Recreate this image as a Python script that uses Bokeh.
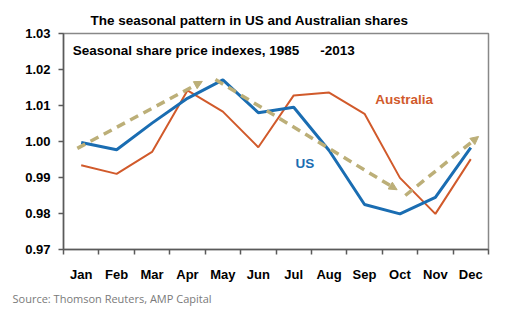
from bokeh.plotting import figure
from bokeh.models import (ColumnDataSource, Range1d, FixedTicker, Label, Arrow,
                          NormalHead, CustomJSTickFormatter, Title)
from bokeh.embed import file_html
from bokeh.resources import INLINE

months = ["Jan", "Feb", "Mar", "Apr", "May", "Jun", "Jul", "Aug", "Sep", "Oct", "Nov", "Dec"]
month_pos = [1, 2, 3, 4, 5, 6, 7, 8, 9, 10, 11, 12]
us = [0.9997, 0.9977, 1.0051, 1.0120, 1.0171, 1.0080, 1.0095, 0.9975, 0.9825, 0.9799, 0.9845, 0.9983]
australia = [0.9934, 0.9910, 0.9971, 1.0142, 1.0083, 0.9984, 1.0128, 1.0136, 1.0077, 0.9899, 0.9799, 0.9951]
y_ticks = [0.97, 0.98, 0.99, 1.00, 1.01, 1.02, 1.03]
# seasonal trend arrows (start x, start y, end x, end y)
arrow_x0 = [0.89, 4.79, 10.15]
arrow_y0 = [0.9981, 1.0172, 0.9850]
arrow_x1 = [4.42, 9.92, 12.22]
arrow_y1 = [1.0167, 0.9866, 1.0014]

title_text = "The seasonal pattern in US and Australian shares"
subtitle_a = "Seasonal share price indexes, 1985"
subtitle_b = "-2013"
source_text = "Source: Thomson Reuters, AMP Capital"

BLUE = "#1A6DB2"
ORANGE = "#D15A2B"
TAN = "#BCAF78"
AXIS = "#5a5a5a"
FONT = "Liberation Sans"

p = figure(width=516, height=324, output_backend="svg", toolbar_location=None,
           x_range=Range1d(0.5, 12.5), y_range=Range1d(0.97, 1.03),
           min_border_left=63, min_border_right=28, min_border_top=33, min_border_bottom=75)
p.title = Title(text=title_text, align="left", text_font=FONT, text_font_style="bold",
                text_font_size="13.5px", text_color="black", offset=27, standoff=12)
p.background_fill_color = "white"
p.border_fill_color = "white"
p.outline_line_color = "#888888"
p.outline_line_width = 1.5
p.grid.visible = False

src = ColumnDataSource(dict(x=month_pos, us=us, au=australia))
p.line("x", "au", source=src, line_color=ORANGE, line_width=2)
p.line("x", "us", source=src, line_color=BLUE, line_width=3)

asrc = ColumnDataSource(dict(x0=arrow_x0, y0=arrow_y0, x1=arrow_x1, y1=arrow_y1))
p.add_layout(Arrow(source=asrc, x_start="x0", y_start="y0", x_end="x1", y_end="y1",
                   line_color=TAN, line_width=3.5, line_dash="9 6",
                   end=NormalHead(size=8, fill_color=TAN, line_color=TAN, line_width=1)))

# x axis: labels at month centres, ticks at month boundaries
xa = p.xaxis[0]
xa.ticker = FixedTicker(ticks=month_pos, minor_ticks=[m - 0.5 for m in month_pos] + [12.5])
xa.major_label_overrides = {m: lab for m, lab in zip(month_pos, months)}
xa.major_tick_out = 0
xa.major_tick_in = 0
xa.minor_tick_out = 5
xa.minor_tick_in = 0
xa.minor_tick_line_color = AXIS
xa.minor_tick_line_width = 1.5
xa.axis_line_color = AXIS
xa.axis_line_width = 1.5
xa.major_label_text_font = FONT
xa.major_label_text_font_style = "bold"
xa.major_label_text_font_size = "13px"
xa.major_label_text_color = "black"
xa.major_label_standoff = 12

ya = p.yaxis[0]
ya.ticker = FixedTicker(ticks=y_ticks, minor_ticks=[])
ya.formatter = CustomJSTickFormatter(code="return tick.toFixed(2);")
ya.major_tick_out = 5
ya.major_tick_in = 0
ya.major_tick_line_color = AXIS
ya.major_tick_line_width = 1.5
ya.axis_line_color = AXIS
ya.axis_line_width = 1.5
ya.major_label_text_font = FONT
ya.major_label_text_font_style = "bold"
ya.major_label_text_font_size = "13px"
ya.major_label_text_color = "black"
ya.major_label_standoff = 8

p.add_layout(Label(x=0.76, y=1.0253, text=subtitle_a, text_font=FONT,
                   text_font_style="bold", text_font_size="13.5px", text_color="black",
                   text_align="left", text_baseline="middle"))
p.add_layout(Label(x=7.75, y=1.0253, text=subtitle_b, text_font=FONT,
                   text_font_style="bold", text_font_size="13.5px", text_color="black",
                   text_align="left", text_baseline="middle"))
p.add_layout(Label(x=9.3, y=1.0117, text="Australia", text_font=FONT,
                   text_font_style="bold", text_font_size="13.5px", text_color=ORANGE,
                   text_align="left", text_baseline="middle"))
p.add_layout(Label(x=7.05, y=0.9940, text="US", text_font=FONT,
                   text_font_style="bold", text_font_size="13.5px", text_color=BLUE,
                   text_align="left", text_baseline="middle"))
p.add_layout(Title(text=source_text, align="left", text_font="Open Sans",
                   text_font_size="11px", text_font_style="normal", text_color="#7a7a7a",
                   offset=-51, standoff=9), "below")

open("out.html", "w").write(file_html(p, INLINE))
